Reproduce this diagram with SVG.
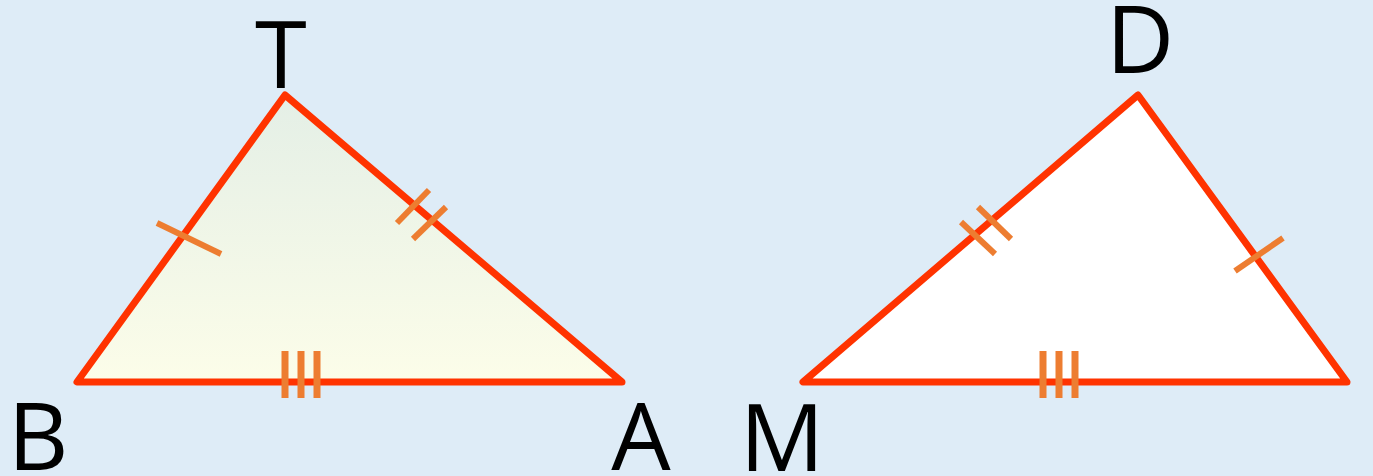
<svg xmlns="http://www.w3.org/2000/svg" width="1373" height="476" viewBox="0 0 1373 476">
<defs>
<linearGradient id="fillL" x1="0" y1="0" x2="0" y2="1">
<stop offset="0" stop-color="#e4efe6"/>
<stop offset="1" stop-color="#fcfde9"/>
</linearGradient>
<style>
.side{stroke:#ff3300;stroke-width:7;stroke-linejoin:round;stroke-linecap:round}
.tick{stroke:#ed7d31;stroke-width:6;fill:none}
.tick3{stroke:#ed7d31;stroke-width:7;fill:none}
.lbl{font-family:"Open Sans","Noto Sans","Liberation Sans",sans-serif;font-size:94px;fill:#000;text-anchor:middle}
</style>
</defs>
<rect x="0" y="0" width="1373" height="476" fill="#deecf7"/>
<g id="triangle-TBA">
<polygon class="side" points="285,95 77,382 622,382" fill="url(#fillL)"/>
<line class="tick" x1="157" y1="223" x2="221" y2="254"/>
<line class="tick" x1="397" y1="223" x2="429" y2="190"/>
<line class="tick" x1="413" y1="239" x2="446" y2="207"/>
<line class="tick3" x1="285" y1="351" x2="285" y2="398"/>
<line class="tick3" x1="301" y1="351" x2="301" y2="398"/>
<line class="tick3" x1="317" y1="351" x2="317" y2="398"/>
</g>
<g id="triangle-DME">
<polygon class="side" points="1138,95 803,382 1347,382" fill="#ffffff"/>
<line class="tick" x1="961" y1="222" x2="995" y2="254"/>
<line class="tick" x1="978" y1="207" x2="1011" y2="239"/>
<line class="tick" x1="1235" y1="271" x2="1283" y2="238"/>
<line class="tick3" x1="1043" y1="351" x2="1043" y2="398"/>
<line class="tick3" x1="1059" y1="351" x2="1059" y2="398"/>
<line class="tick3" x1="1075" y1="351" x2="1075" y2="398"/>
</g>
<g id="labels">
<text class="lbl" x="281" y="88">T</text>
<text class="lbl" x="1140" y="73">D</text>
<text class="lbl" x="38" y="470">B</text>
<text class="lbl" x="641" y="470">A</text>
<text class="lbl" x="782" y="471">M</text>
</g>
</svg>
